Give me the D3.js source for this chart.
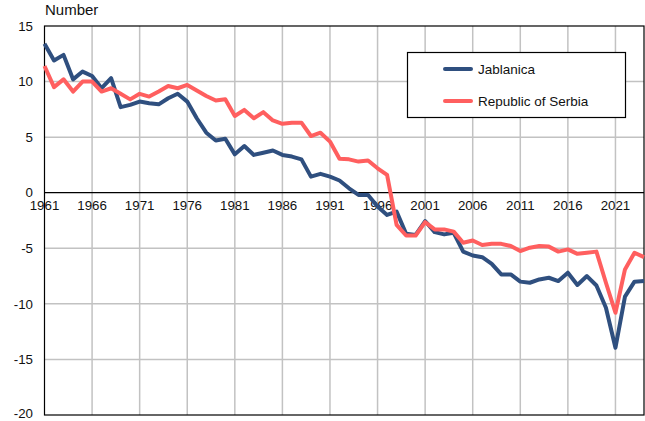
<!DOCTYPE html>
<html><head><meta charset="utf-8">
<script src="https://cdn.jsdelivr.net/npm/d3@7"></script>
<style>body{margin:0;background:#fff;}svg{display:block;font-family:"Liberation Sans",Arial,sans-serif;}</style>
</head><body>
<svg id="c" width="645" height="421"></svg>
<script>
const years = d3.range(1961, 2025);
const jablanica = [13.4,11.9,12.4,10.2,10.9,10.5,9.4,10.3,7.7,7.9,
  8.2,8.05,7.95,8.5,8.9,8.2,6.7,5.4,4.7,4.85,
  3.45,4.2,3.4,3.6,3.8,3.4,3.25,3.0,1.45,1.7,
  1.45,1.1,0.4,-0.2,-0.2,-1.25,-2.0,-1.7,-3.7,-3.8,
  -2.55,-3.55,-3.75,-3.6,-5.3,-5.65,-5.8,-6.4,-7.35,-7.35,
  -8.0,-8.1,-7.8,-7.65,-7.95,-7.2,-8.3,-7.5,-8.35,-10.35,
  -13.95,-9.35,-8.0,-7.95];
const serbia = [11.4,9.5,10.2,9.1,10.0,10.0,9.1,9.4,8.9,8.4,
  8.9,8.65,9.1,9.6,9.4,9.7,9.2,8.7,8.3,8.4,
  6.9,7.45,6.7,7.25,6.5,6.2,6.3,6.3,5.1,5.4,
  4.6,3.05,3.0,2.8,2.9,2.2,1.6,-2.9,-3.85,-3.85,
  -2.65,-3.3,-3.3,-3.5,-4.5,-4.3,-4.7,-4.6,-4.6,-4.8,
  -5.25,-4.95,-4.8,-4.85,-5.3,-5.1,-5.5,-5.4,-5.3,-8.1,
  -10.8,-6.9,-5.4,-5.8];
const yTicks = [15,10,5,0,-5,-10,-15,-20];
const xTicks = [1961,1966,1971,1976,1981,1986,1991,1996,2001,2006,2011,2016,2021];
const seriesNames = ["Jablanica","Republic of Serbia"];
const colors = ["#2f4f7f","#ff5f5f"];

const svg = d3.select("#c");
const L=44.5, R=644, T=26, B=415;
const x = d3.scaleLinear().domain([1961,2024]).range([L,R]);
const y = d3.scaleLinear().domain([-20,15]).range([B,T]);

// grid
svg.append("g").selectAll("line").data(yTicks.filter(v=>v!==0&&v!==15&&v!==-20)).join("line")
  .attr("x1",L).attr("x2",R).attr("y1",d=>y(d)).attr("y2",d=>y(d))
  .attr("stroke","#c2c2c2").attr("stroke-width",1.5);
svg.append("g").selectAll("line").data(xTicks.filter(v=>v!==1961)).join("line")
  .attr("y1",T).attr("y2",B).attr("x1",d=>x(d)).attr("x2",d=>x(d))
  .attr("stroke","#c2c2c2").attr("stroke-width",1.5);

// frame
svg.append("rect").attr("x",L).attr("y",T).attr("width",R-L).attr("height",B-T)
  .attr("fill","none").attr("stroke","#000").attr("stroke-width",1.2);
svg.append("line").attr("x1",L).attr("x2",R).attr("y1",y(0)).attr("y2",y(0))
  .attr("stroke","#000").attr("stroke-width",1.2);

// y tick labels
svg.append("g").selectAll("text").data(yTicks).join("text")
  .attr("x",33).attr("y",d=>d===-20 ? y(d)-1.5 : y(d)).attr("dy","0.35em").attr("text-anchor","end")
  .attr("font-size",13.3).attr("fill","#111").text(d=>d);
// x tick labels
svg.append("g").selectAll("text").data(xTicks).join("text")
  .attr("x",d=>x(d)).attr("y",y(0)+17).attr("text-anchor","middle")
  .attr("font-size",13.3).attr("fill","#111").text(d=>d);

svg.append("text").attr("x",45).attr("y",15).attr("font-size",15).attr("fill","#111").text("Number");

// lines
const line = d3.line().x((d,i)=>x(years[i])).y(d=>y(d));
[jablanica, serbia].forEach((s,k)=>{
  svg.append("path").datum(s).attr("d",line).attr("fill","none")
    .attr("stroke",colors[k]).attr("stroke-width",4).attr("stroke-linejoin","round");
});

// legend
svg.append("rect").attr("x",407.5).attr("y",52.5).attr("width",218).attr("height",65)
  .attr("fill","#fff").attr("stroke","#000").attr("stroke-width",1.2);
seriesNames.forEach((n,k)=>{
  const yy = 69 + k*32;
  svg.append("line").attr("x1",445).attr("x2",471).attr("y1",yy).attr("y2",yy)
    .attr("stroke",colors[k]).attr("stroke-width",4).attr("stroke-linecap","round");
  svg.append("text").attr("x",478).attr("y",yy).attr("dy","0.35em").attr("font-size",13.5)
    .attr("fill","#111").text(n);
});
</script>
</body></html>
